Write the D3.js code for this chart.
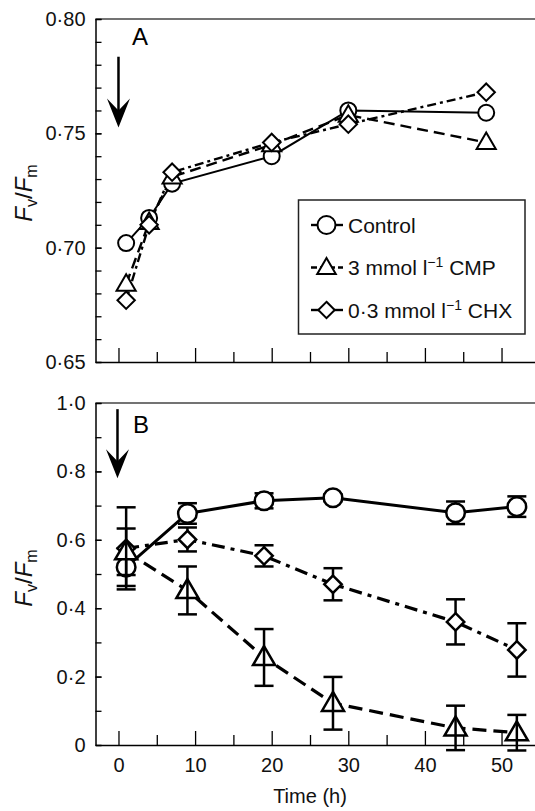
<!DOCTYPE html>
<meta charset="utf-8">
<title>Fv/Fm time course</title>
<style>
    body { margin: 0; background: #fff; }
    svg { display: block; font-family: "Liberation Sans", Arial, sans-serif; }
    .tick text { font-size: 20px; fill: #111; }
</style>
<body>
</body>

<script src="https://d3js.org/d3.v7.min.js"></script>
<script>
    const width = 535, height = 811;

    // panel A: means only
    const timeA = [1, 4, 7, 20, 30, 48];
    const controlA = [0.702, 0.713, 0.728, 0.740, 0.760, 0.759];
    const cmpA = [0.684, 0.711, 0.731, 0.745, 0.758, 0.746];
    const chxA = [0.677, 0.710, 0.733, 0.746, 0.754, 0.768];

    // panel B: means and error bars
    const timeB = [1, 9, 19, 28, 44, 52];
    const controlB = [0.520, 0.677, 0.714, 0.723, 0.679, 0.697];
    const controlBErr = [0.055, 0.030, 0.022, 0.010, 0.033, 0.030];
    const cmpB = [0.565, 0.452, 0.256, 0.122, 0.050, 0.036];
    const cmpBErr = [0.068, 0.070, 0.083, 0.077, 0.065, 0.052];
    const chxB = [0.575, 0.601, 0.553, 0.470, 0.360, 0.278];
    const chxBErr = [0.120, 0.035, 0.031, 0.047, 0.066, 0.078];

    const xTicks = [0, 10, 20, 30, 40, 50];
    const yTicksA = [0.65, 0.70, 0.75, 0.80];
    const yTicksB = [0, 0.2, 0.4, 0.6, 0.8, 1.0];
    const legendLabels = [
        ["Control"],
        ["3 mmol l", "\u22121", " CMP"],
        ["0\u00b73 mmol l", "\u22121", " CHX"]
    ];

    const svg = d3.select("body").append("svg")
        .attr("width", width).attr("height", height);

    const x = d3.scaleLinear().domain([-3, 54.5]).range([95.5, 536]);

    // s: radius for circle, height for triangle, half-diagonal for diamond
    function marker(g, shape, cx, cy, s, sw) {
        let el;
        if (shape === "circle") {
            el = g.append("circle").attr("cx", cx).attr("cy", cy).attr("r", s);
        } else if (shape === "triangle") {
            const w = s * 0.58, h = s;
            el = g.append("path").attr("d",
                `M${cx},${cy - h * 0.6}L${cx + w},${cy + h * 0.4}L${cx - w},${cy + h * 0.4}Z`);
        } else {
            el = g.append("path").attr("d",
                `M${cx},${cy - s}L${cx + s},${cy}L${cx},${cy + s}L${cx - s},${cy}Z`);
        }
        el.attr("fill", "#fff").attr("stroke", "#000").attr("stroke-width", sw)
            .attr("stroke-linejoin", "miter");
    }

    function errBars(g, t, v, e, y, cap, sw) {
        t.forEach((d, i) => {
            const cx = x(d), y1 = y(v[i] + e[i]), y2 = y(v[i] - e[i]);
            g.append("line").attr("x1", cx).attr("x2", cx).attr("y1", y1).attr("y2", y2);
            g.append("line").attr("x1", cx - cap).attr("x2", cx + cap).attr("y1", y1).attr("y2", y1);
            g.append("line").attr("x1", cx - cap).attr("x2", cx + cap).attr("y1", y2).attr("y2", y2);
        });
        g.attr("stroke", "#000").attr("stroke-width", sw);
    }

    function arrow(g, cx, yTop, yTip) {
        g.append("line").attr("x1", cx).attr("x2", cx).attr("y1", yTop).attr("y2", yTip - 14)
            .attr("stroke", "#000").attr("stroke-width", 2.5);
        g.append("path")
            .attr("d", `M${cx},${yTip}L${cx + 11.5},${yTip - 29}L${cx},${yTip - 17}L${cx - 11.5},${yTip - 29}Z`)
            .attr("fill", "#000");
    }

    function frame(g, y, yMinor, yFmt, yTicks, showX) {
        const [y0, y1] = y.range();
        g.append("line").attr("x1", x.range()[0]).attr("x2", x.range()[1])
            .attr("y1", y1).attr("y2", y1).attr("stroke", "#444").attr("stroke-width", 1.5);

        // y axis: minor ticks then labelled ticks
        g.append("g").attr("transform", `translate(${x.range()[0]},0)`)
            .call(d3.axisLeft(y).tickValues(yMinor).tickSizeInner(-6).tickSizeOuter(0).tickFormat(""))
            .call(a => a.selectAll("line").attr("stroke-width", 1.3))
            .call(a => a.select(".domain").attr("stroke-width", 1.5));
        g.append("g").attr("transform", `translate(${x.range()[0]},0)`)
            .call(d3.axisLeft(y).tickValues(yTicks).tickSizeInner(-6).tickSizeOuter(0)
                .tickPadding(10).tickFormat(yFmt))
            .call(a => a.select(".domain").remove())
            .call(a => a.selectAll("line").attr("stroke-width", 1.3));

        // x axis: inward ticks, long at 10 h, short at 5 h
        g.append("g").attr("transform", `translate(0,${y0})`)
            .call(d3.axisBottom(x).tickValues(d3.range(5, 55, 10)).tickSizeInner(-10).tickSizeOuter(0).tickFormat(""))
            .call(a => a.selectAll("line").attr("stroke-width", 1.3))
            .call(a => a.select(".domain").attr("stroke-width", 1.5));
        g.append("g").attr("transform", `translate(0,${y0})`)
            .call(d3.axisBottom(x).tickValues(xTicks).tickSizeInner(-14).tickSizeOuter(0)
                .tickPadding(13).tickFormat(showX ? d3.format("d") : ""))
            .call(a => a.select(".domain").remove())
            .call(a => a.selectAll("line").attr("stroke-width", 1.3));
    }

    function yLabel(g, cx, cy) {
        const t = g.append("text").attr("transform", `translate(${cx},${cy}) rotate(-90)`)
            .attr("text-anchor", "middle").style("font-size", "24px").attr("fill", "#111");
        t.append("tspan").text("F").style("font-style", "italic");
        t.append("tspan").text("v").style("font-size", "16px").attr("dy", 5);
        t.append("tspan").text("/").attr("dy", -5);
        t.append("tspan").text("F").style("font-style", "italic");
        t.append("tspan").text("m").style("font-size", "16px").attr("dy", 5);
    }

    function line(g, t, v, y, dash, sw) {
        g.append("path")
            .attr("d", d3.line().x((d, i) => x(t[i])).y(d => y(d))(v))
            .attr("fill", "none").attr("stroke", "#000").attr("stroke-width", sw)
            .attr("stroke-dasharray", dash);
    }

    // ---------- panel A ----------
    const yA = d3.scaleLinear().domain([0.65, 0.80]).range([362, 19]);
    const gA = svg.append("g");
    frame(gA, yA, d3.range(65, 81).map(d => d / 100), d => d.toFixed(2).replace(".", "\u00b7"), yTicksA, false);
    yLabel(gA, 32, 193);
    gA.append("text").attr("x", 132).attr("y", 45).text("A").style("font-size", "24px");
    arrow(gA, x(0), yA(0.7835), yA(0.7525));

    line(gA, timeA, controlA, yA, null, 2);
    line(gA, timeA, cmpA, yA, "11,6", 2.4);
    line(gA, timeA, chxA, yA, "9,4,3,4", 2.4);
    timeA.forEach((t, i) => marker(gA, "circle", x(t), yA(controlA[i]), 8, 2));
    timeA.forEach((t, i) => marker(gA, "triangle", x(t), yA(cmpA[i]), 16.5, 2));
    timeA.forEach((t, i) => marker(gA, "diamond", x(t), yA(chxA[i]), 8.7, 2));

    // legend
    const lg = gA.append("g");
    lg.append("rect").attr("x", 298.5).attr("y", 200).attr("width", 226.5).attr("height", 134)
        .attr("fill", "#fff").attr("stroke", "#222").attr("stroke-width", 1.5);
    const legShapes = ["circle", "triangle", "diamond"];
    const legSize = [9, 16, 8.2];
    const legDash = [null, "6,3", null];
    legendLabels.forEach((parts, i) => {
        const ly = 225 + i * 42.5;
        lg.append("line").attr("x1", 311).attr("x2", 343).attr("y1", ly).attr("y2", ly)
            .attr("stroke", "#000").attr("stroke-width", 2.4).attr("stroke-dasharray", legDash[i]);
        marker(lg, legShapes[i], 326.5, ly, legSize[i], 2);
        const tx = lg.append("text").attr("x", 348).attr("y", ly + 7.5).style("font-size", "21px").attr("fill", "#111");
        tx.append("tspan").text(parts[0]);
        if (parts.length > 1) {
            tx.append("tspan").text(parts[1]).style("font-size", "14px").attr("dy", -8);
            tx.append("tspan").text(parts[2]).attr("dy", 8);
        }
    });

    // ---------- panel B ----------
    const yB = d3.scaleLinear().domain([0, 1]).range([745, 403]);
    const gB = svg.append("g");
    frame(gB, yB, d3.range(0, 11).map(d => d / 10),
        d => d === 0 ? "0" : d.toFixed(1).replace(".", "\u00b7"), yTicksB, true);
    yLabel(gB, 32, 578);
    gB.append("text").attr("x", 133).attr("y", 433).text("B").style("font-size", "24px");
    arrow(gB, x(0) - 1, yB(0.982), yB(0.78));

    gB.append("text").attr("x", x(25)).attr("y", 803).attr("text-anchor", "middle")
        .style("font-size", "20px").attr("fill", "#111").text("Time (h)");

    line(gB, timeB, controlB, yB, null, 3);
    line(gB, timeB, cmpB, yB, "14,7", 3.2);
    line(gB, timeB, chxB, yB, "13,6,4,6", 3.2);

    errBars(gB.append("g"), timeB, controlB, controlBErr, yB, 9.5, 2.5);
    timeB.forEach((t, i) => marker(gB, "circle", x(t), yB(controlB[i]), 9.3, 2.5));
    errBars(gB.append("g"), timeB, chxB, chxBErr, yB, 9.5, 2.5);
    timeB.forEach((t, i) => marker(gB, "diamond", x(t), yB(chxB[i]), 8.7, 2.5));
    timeB.forEach((t, i) => marker(gB, "triangle", x(t), yB(cmpB[i]), 19, 2.5));
    errBars(gB.append("g"), timeB, cmpB, cmpBErr, yB, 9.5, 2.5);
</script>
